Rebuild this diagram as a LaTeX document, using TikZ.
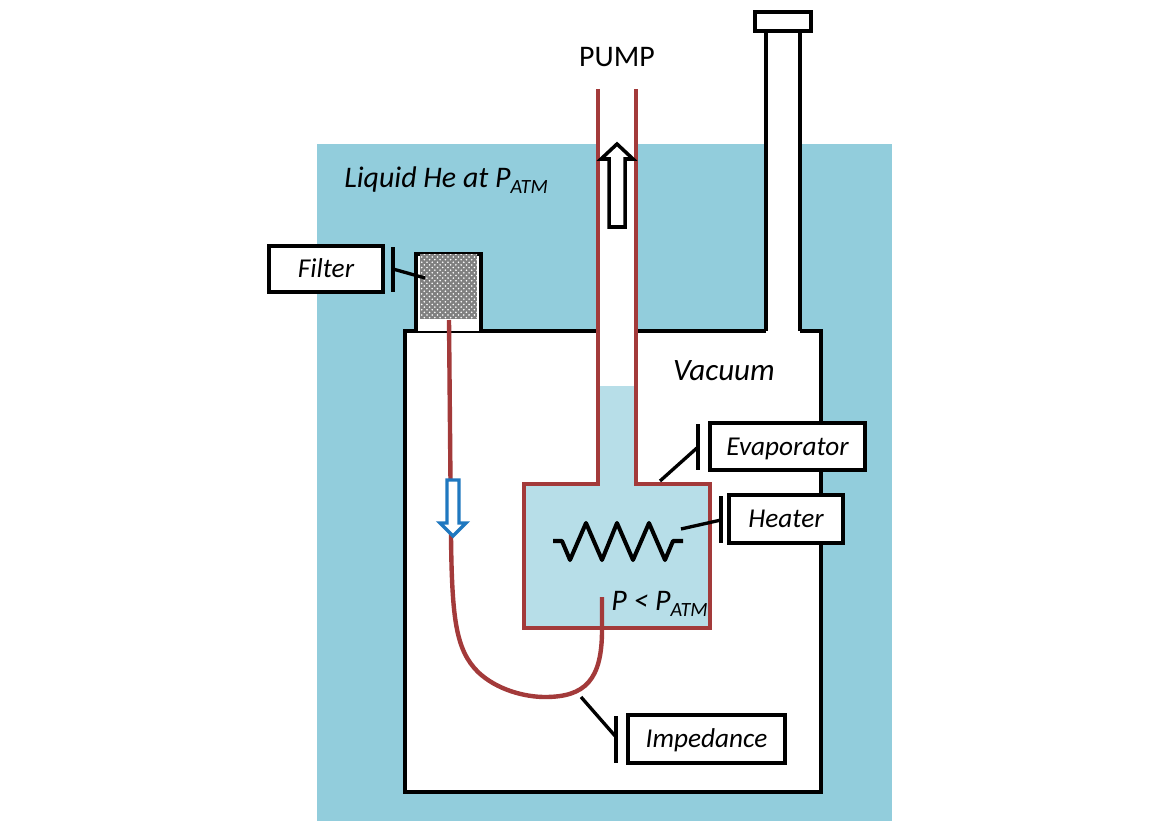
\documentclass[tikz,border=0pt]{standalone}
\usepackage{fontspec}
\setmainfont{Carlito}
\usetikzlibrary{patterns}
\definecolor{bathblue}{RGB}{146,205,220}
\definecolor{paleblue}{RGB}{183,222,232}
\definecolor{tubered}{RGB}{163,58,58}
\definecolor{flowblue}{RGB}{31,120,192}
\newcommand{\atmsub}{\raisebox{-3pt}{\fontsize{11.5}{12}\selectfont ATM}}
\tikzset{
	wall/.style={black,line width=2pt},
	tube/.style={tubered,line width=1.9pt},
	tag/.style={draw=black,line width=2pt,fill=white,font=\itshape\fontsize{15.5}{18}\selectfont,inner sep=0pt,text height=13pt,text depth=3pt},
	leader/.style={black,line width=1.9pt},
	caption/.style={inner sep=0pt,text=black,font=\fontsize{17}{20}\selectfont},
}
\begin{document}
\begin{tikzpicture}[x=0.02cm,y=0.02cm]
	\useasboundingbox (0,0) rectangle (1149,-821);
	\fill [bathblue] (317,-144) rectangle (892,-821);
	\fill [white] (405,-331) rectangle (821,-792);
	\draw [wall] (766,-331) -- (405,-331) -- (405,-792) -- (821,-792) -- (821,-331) -- (800,-331);
	\fill [white] (766,-31) rectangle (800,-331);
	\draw [wall] (766,-31) -- (766,-331);
	\draw [wall] (800,-31) -- (800,-331);
	\draw [wall,fill=white] (755,-12) rectangle (811,-31);
	\fill [white] (598,-89) rectangle (636,-386);
	\fill [paleblue] (598,-386) rectangle (636,-484);
	\fill [paleblue] (524,-484) rectangle (710,-628);
	\draw [tube] (598,-89) -- (598,-484) -- (524,-484) -- (524,-628) -- (710,-628) -- (710,-484) -- (636,-484) -- (636,-89);
	\draw [black,line width=2pt,fill=white,line join=miter] (617,-144) -- (633,-159) -- (625,-159) -- (625,-227) -- (609,-227) -- (609,-159) -- (601,-159) -- cycle;
	\draw [wall,fill=white] (416,-331) -- (416,-254) -- (481,-254) -- (481,-331);
	\fill [black!50] (420,-254) rectangle (477,-319);
	\fill [pattern=crosshatch dots,pattern color=white] (420,-254) rectangle (477,-319);
	\draw [tubered,line width=2.5pt] (449,-320) -- (451,-537) .. controls (452,-620) and (456,-650) .. (478,-672) .. controls (497,-690) and (525,-697) .. (545,-697) .. controls (585,-697) and (602,-680) .. (602,-630) -- (602,-597);
	\draw [flowblue,line width=1.9pt,fill=white] (453,-536) -- (440,-523) -- (447,-523) -- (447,-480) -- (459,-480) -- (459,-523) -- (466,-523) -- cycle;
	\draw [black,line width=2.3pt,line join=round] (553,-541) -- (562,-541) -- (570,-560) -- (586,-523) -- (602,-560) -- (617,-523) -- (633,-560) -- (649,-523) -- (665,-560) -- (673,-541) -- (683,-541);
	\node (pump) [caption] at (617,-57) {PUMP};
	\node (bath) [caption,anchor=west] at (344,-180) {\itshape Liquid He at P\atmsub};
	\node (vacuum) [caption,font=\fontsize{17.7}{20}\selectfont] at (724,-371) {\itshape Vacuum};
	\node (pressure) [caption,anchor=west] at (611,-604) {\itshape P < P\atmsub};
	\node (filter) [tag,minimum width=2.28cm,minimum height=0.92cm] at (326,-269) {Filter};
	\node (evaporator) [tag,minimum width=3.1cm,minimum height=0.94cm] at (787.5,-446.5) {Evaporator};
	\node (heater) [tag,minimum width=2.28cm,minimum height=0.96cm] at (786,-519) {Heater};
	\node (impedance) [tag,minimum width=3.14cm,minimum height=0.96cm] at (706.5,-739) {Impedance};
	\coordinate (filtertop) at (393,-247);
	\coordinate (filterbot) at (393,-292);
	\coordinate (filterbar) at (393,-269);
	\coordinate (filterend) at (425,-278);
	\coordinate (evaptop) at (698,-424);
	\coordinate (evapbot) at (698,-470);
	\coordinate (evapbar) at (698,-447);
	\coordinate (evapend) at (660,-481);
	\coordinate (heattop) at (721,-496);
	\coordinate (heatbot) at (721,-543);
	\coordinate (heatbar) at (721,-520);
	\coordinate (heatend) at (681,-529);
	\coordinate (imptop) at (616,-716);
	\coordinate (impbot) at (616,-763);
	\coordinate (impbar) at (616,-737);
	\coordinate (impend) at (581,-697);
	\draw [leader] (filtertop) -- (filterbot);
	\draw [leader] (filterbar) -- (filterend);
	\draw [leader] (evaptop) -- (evapbot);
	\draw [leader] (evapbar) -- (evapend);
	\draw [leader] (heattop) -- (heatbot);
	\draw [leader] (heatbar) -- (heatend);
	\draw [leader] (imptop) -- (impbot);
	\draw [leader] (impbar) -- (impend);
\end{tikzpicture}
\end{document}
